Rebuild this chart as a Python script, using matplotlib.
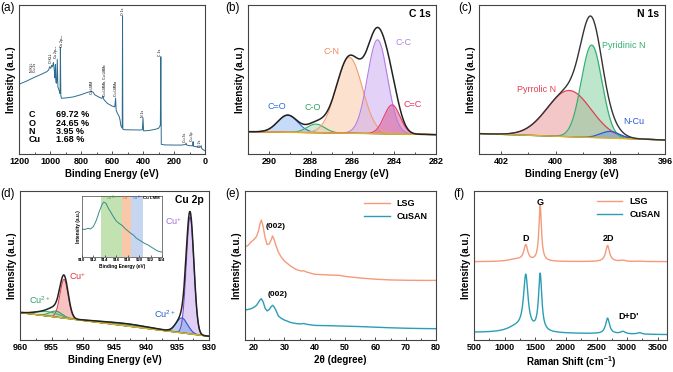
import numpy as np
import matplotlib.pyplot as plt
from matplotlib.ticker import MultipleLocator

plt.rcParams['font.family'] = ['Liberation Sans', 'DejaVu Sans']
plt.rcParams['mathtext.fontset'] = 'custom'
plt.rcParams['mathtext.rm'] = 'Liberation Sans'
plt.rcParams['mathtext.bf'] = 'Liberation Sans:bold'
plt.rcParams['mathtext.default'] = 'regular'

# ---------------- data ----------------
# (a) XPS survey (binding energy eV, intensity in % of axis height)
survey_be = [1200, 1150, 1100, 1060, 1020, 1008, 1003, 995, 990, 984, 978, 972, 968, 965, 962,
             957, 953, 949, 944, 939, 935, 933, 930, 926, 900, 850, 800, 760, 735, 722, 712, 690,
             665, 658, 652, 630, 600, 582, 577, 573, 565, 555, 548, 543, 537, 534, 532, 530, 520,
             480, 420, 404, 400, 396, 360, 320, 300, 292, 288, 285, 282, 260, 200, 150, 126, 122,
             118, 100, 80, 77, 74, 50, 30, 25, 20, 10, 0]
survey_int = [46.8, 49.0, 51.5, 53.3, 55.3, 56.5, 58.5, 57.5, 59.5, 58.5, 61.5, 56.0, 51.0, 60.0, 48.0,
              47.5, 63.5, 45.0, 43.5, 42.0, 40.5, 71.5, 39.0, 37.4, 37.6, 38.3, 39.8, 41.3, 42.0, 41.5,
              39.8, 38.5, 37.3, 38.8, 36.5, 34.0, 32.2, 31.6, 37.5, 29.5, 27.2, 25.5, 22.8, 19.0, 18.3,
              17.5, 92.6, 16.6, 16.3, 16.2, 16.1, 16.3, 24.3, 15.5, 15.8, 16.6, 17.2, 18.5, 19.5, 65.3,
              6.5, 6.1, 6.0, 6.0, 6.4, 7.3, 6.0, 5.6, 5.5, 8.3, 5.2, 4.8, 4.6, 5.6, 3.5, 2.8, 2.2]
survey_tags = ['N KLL', 'Cu 2s', 'O KLL', 'Cu 2p$_{1/2}$', 'Cu 2p$_{3/2}$', 'Cu LMM',
               'Cu LMMb, Cu LMMc', 'Cu LMMa', 'O 1s', 'N 1s', 'C 1s', 'Cu 3s', 'Cu 3p', 'O 2s']
survey_tag_be = [1118, 1094, 994, 962, 920, 726, 650, 575, 532, 400, 288, 131, 84, 30]
survey_tag_y = [55, 55, 61, 64, 71, 40, 39, 39, 93, 25, 66, 8, 9, 5]
atom_el = ['C', 'O', 'N', 'Cu']
atom_pct = ['69.72 %', '24.65 %', '3.95 %', '1.68 %']

# (b) C 1s fit components
c1s_names = ['C=O', 'C-O', 'C-N', 'C-C', 'C=C']
c1s_center = [289.1, 287.75, 286.15, 284.8, 284.1]
c1s_height = [11.5, 5.8, 51.0, 63.0, 19.5]
c1s_sigma = [0.48, 0.42, 0.62, 0.48, 0.38]
c1s_bg = [15.0, 13.0]  # background at 291 and 282 eV

# (c) N 1s fit components
n1s_names = ['Pyrrolic N', 'Pyridinic N', 'N-Cu']
n1s_center = [399.5, 398.68, 398.0]
n1s_height = [31.0, 62.0, 4.5]
n1s_sigma = [0.8, 0.38, 0.35]
n1s_bg = [13.7, 9.4]  # at 402.8 and 396 eV

# (d) Cu 2p fit components
cu_names = ['Cu+ 2p3/2', 'Cu2+ 2p3/2', 'Cu+ 2p1/2', 'Cu2+ 2p1/2', 'sat 1', 'sat 2']
cu_center = [933.0, 934.3, 953.0, 954.3, 955.6, 943.0]
cu_height = [78.5, 10.0, 26.0, 4.0, 3.0, 1.5]
cu_sigma = [0.6, 0.9, 0.65, 1.0, 1.8, 4.0]
cu_bg = [18.4, 2.5]  # at 960 and 930 eV

# (d) inset: Cu LMM
lmm_be = [910, 910.5, 911, 911.5, 912, 912.5, 913, 913.5, 913.8, 914.2, 914.6, 915, 915.5, 916,
          916.5, 917, 917.5, 918, 918.5, 919, 919.5, 920, 920.5, 921, 921.5, 922, 922.5, 923,
          923.5, 924]
lmm_int = [46, 45, 47, 46, 50, 60, 74, 86, 90, 88, 80, 74, 66, 59, 55, 52, 47, 43, 39, 36, 31,
           28, 25, 22, 20, 17, 14, 11, 9, 8]
lmm_bands = [(913.4, 917.0), (917.0, 918.6), (918.6, 920.6)]
lmm_band_labels = ['Cu$^{2+}$', 'Cu$^{+}$', 'Cu$^{0}$']

# (e) XRD
xrd_2theta = [17, 18, 19, 20, 20.8, 21.5, 22.0, 22.4, 23.0, 23.6, 24.3, 25.0, 25.6, 26.1, 26.5,
              27.2, 28, 29, 30, 32, 34, 35.5, 36.3, 37.5, 40, 45, 48, 50, 55, 60, 65, 70, 75, 80]
xrd_lsg = [62.4, 63.5, 65.8, 67.5, 69.5, 73.5, 78.5, 80.5, 76.0, 69.0, 64.0, 64.5, 67.0, 69.8, 68.0,
           63.5, 59.0, 55.5, 53.0, 49.7, 47.2, 46.3, 46.5, 45.5, 44.1, 43.6, 43.4, 42.7, 41.6, 40.8,
           40.3, 40.1, 40.0, 40.0]
xrd_cusan = [20.1, 20.5, 21.0, 22.0, 23.3, 25.5, 27.0, 27.7, 25.5, 21.5, 19.5, 20.5, 22.3, 23.3, 22.5,
             20.0, 16.1, 14.5, 13.4, 11.8, 11.0, 10.8, 11.1, 10.5, 9.8, 9.6, 9.4, 9.3, 9.0, 8.6,
             8.2, 7.9, 7.7, 7.6]

# (f) Raman: band positions and heights/half-widths per sample
raman_center = [1180, 1345, 1580, 2680, 2930, 3200]
raman_lsg_h = [1.5, 10.5, 37.5, 10.8, 0.8, 0.3]
raman_lsg_w = [150, 38, 25, 38, 50, 50]
raman_cusan_h = [3.5, 37.0, 38.5, 10.5, 1.6, 1.0]
raman_cusan_w = [180, 45, 32, 38, 45, 40]
raman_lsg_bg = [52.5, 52.6]
raman_cusan_bg = [5.0, 3.6]

# ---------------- helpers ----------------
W, H = 673, 372


def rect(l, r, t, b):
    return [l / W, (H - b) / H, (r - l) / W, (b - t) / H]


def gauss(x, c, h, s):
    return h * np.exp(-0.5 * ((x - c) / s) ** 2)


def lorentz(x, c, h, w):
    return h / (1 + ((x - c) / w) ** 2)


def style(ax, xlim, major, minor, xlabel, fs=7):
    ax.set_xlim(*xlim)
    ax.set_ylim(0, 100)
    ax.xaxis.set_major_locator(MultipleLocator(major))
    ax.xaxis.set_minor_locator(MultipleLocator(minor))
    ax.tick_params(axis='x', which='both', direction='in', labelsize=6.5, pad=2,
                   color='#333333', width=0.6)
    ax.tick_params(axis='x', which='major', length=2.5)
    ax.tick_params(axis='x', which='minor', length=1.5)
    ax.tick_params(axis='y', left=False, labelleft=False)
    for lab in ax.get_xticklabels():
        lab.set_fontweight('bold')
    for sp in ax.spines.values():
        sp.set_color('#444444')
        sp.set_linewidth(0.8)
    ax.set_xlabel(xlabel, fontsize=fs, fontweight='bold', labelpad=2)
    ax.set_ylabel('Intensity (a.u.)', fontsize=fs, fontweight='bold', labelpad=2)


fig = plt.figure(figsize=(6.73, 3.72), dpi=100)

# panel labels
for lbl, x, y in [('(a)', 0, 8), ('(b)', 225, 8), ('(c)', 458, 8),
                  ('(d)', 0, 194), ('(e)', 225, 194), ('(f)', 453, 194)]:
    fig.text(x / W, 1 - y / H, lbl, fontsize=8.5, va='center', ha='left')

# ---------------- (a) survey ----------------
ax = fig.add_axes(rect(19, 205, 5, 154))
ax.plot(survey_be, survey_int, color='#2d6b8f', lw=0.7)
for t, xb, yb in zip(survey_tags, survey_tag_be, survey_tag_y):
    ax.text(xb, yb, t, rotation=90, fontsize=2.5, ha='center', va='bottom')
for i, (el, pc) in enumerate(zip(atom_el, atom_pct)):
    ax.text(1140, 26.5 - i * 5.7, el, fontsize=6.5, fontweight='bold', va='center')
    ax.text(960, 26.5 - i * 5.7, pc, fontsize=6.5, fontweight='bold', va='center')
style(ax, (1200, 0), 200, 100, 'Binding Energy (eV)')

# ---------------- (b) C 1s ----------------
ax = fig.add_axes(rect(248, 436, 5, 154))
x = np.linspace(282, 291, 800)
bg = c1s_bg[1] + (c1s_bg[0] - c1s_bg[1]) * (x - 282) / 9
c1s_line = ['#2f6fd6', '#3aa860', '#f0a070', '#b07ee8', '#e0406a']
c1s_fill = ['#8fb8f0', '#9ed8b0', '#fac4a0', '#c8a4f0', '#d8508a']
c1s_text = ['#2a6ae0', '#30a060', '#f08860', '#b080e0', '#e8305a']
c1s_lab_xy = [(289.6, 32), (287.9, 31.5), (287.0, 68.5), (283.55, 74.5), (283.1, 33.5)]
env = bg.copy()
for c, h, s, lc, fc, tc, name, (tx, ty) in zip(c1s_center, c1s_height, c1s_sigma, c1s_line,
                                               c1s_fill, c1s_text, c1s_names, c1s_lab_xy):
    g = gauss(x, c, h, s)
    env += g
    ax.fill_between(x, bg, bg + g, color=fc, alpha=0.5, lw=0)
    ax.plot(x, bg + g, color=lc, lw=0.8)
    ax.text(tx, ty, name, color=tc, fontsize=6.5, ha='center', va='center')
ax.plot(x, bg, color='#e0b020', lw=1.0)
ax.plot(x, env, color='#222222', lw=1.1)
ax.text(0.97, 0.94, 'C 1s', transform=ax.transAxes, fontsize=7.5, fontweight='bold',
        ha='right', va='center')
style(ax, (291, 282), 2, 1, 'Binding Energy (eV)')

# ---------------- (c) N 1s ----------------
ax = fig.add_axes(rect(479, 665, 5, 154))
x = np.linspace(396, 402.8, 800)
bg = n1s_bg[1] + (n1s_bg[0] - n1s_bg[1]) * (x - 396) / 6.8
n1s_line = ['#e04050', '#35b070', '#2a5ad0']
n1s_fill = ['#e89090', '#7ccf9c', '#6f96e6']
n1s_lab_xy = [(400.7, 43.5), (397.5, 72.5), (397.15, 21.5)]
env = bg.copy()
for c, h, s, lc, fc, name, (tx, ty) in zip(n1s_center, n1s_height, n1s_sigma, n1s_line,
                                           n1s_fill, n1s_names, n1s_lab_xy):
    g = gauss(x, c, h, s)
    env += g
    ax.fill_between(x, bg, bg + g, color=fc, alpha=0.5, lw=0)
    ax.plot(x, bg + g, color=lc, lw=0.9)
    ax.text(tx, ty, name, color=lc, fontsize=6.5, ha='center', va='center')
ax.plot(x, bg, color='#e0b020', lw=1.0)
ax.plot(x, env, color='#333333', lw=1.0)
ax.text(0.97, 0.94, 'N 1s', transform=ax.transAxes, fontsize=7.5, fontweight='bold',
        ha='right', va='center')
style(ax, (402.8, 396), 2, 1, 'Binding Energy (eV)')

# ---------------- (d) Cu 2p ----------------
ax = fig.add_axes(rect(20, 209, 191, 340))
x = np.linspace(930, 960, 1200)
bg = cu_bg[1] + (cu_bg[0] - cu_bg[1]) * (x - 930) / 30
cu_line = ['#7a4cc0', '#2a5ad0', '#e04050', '#3c9a5a', '#4caf70', '#1f7a55']
cu_fill = ['#c9a8ee', '#7fa4ee', '#f09090', '#8fd0a0', '#b6e2c0', '#2e8b57']
env = bg.copy()
for c, h, s, lc, fc in zip(cu_center, cu_height, cu_sigma, cu_line, cu_fill):
    g = gauss(x, c, h, s)
    env += g
    ax.fill_between(x, bg, bg + g, color=fc, alpha=0.55, lw=0)
    ax.plot(x, bg + g, color=lc, lw=0.8)
ax.plot(x, bg, color='#e0b020', lw=1.0)
ax.plot(x, env, color='#222222', lw=1.1)
ax.text(950.9, 43, 'Cu$^{+}$', color='#e03040', fontsize=6.5, ha='center', va='center')
ax.text(956.8, 26.5, 'Cu$^{2+}$', color='#30a060', fontsize=6.5, ha='center', va='center')
ax.text(937.0, 17.5, 'Cu$^{2+}$', color='#2a5ad0', fontsize=6.5, ha='center', va='center')
ax.text(935.6, 80, 'Cu$^{+}$', color='#a070d8', fontsize=6.5, ha='center', va='center')
ax.text(0.97, 0.94, 'Cu 2p', transform=ax.transAxes, fontsize=7.5, fontweight='bold',
        ha='right', va='center')
style(ax, (960, 930), 5, 2.5, 'Binding Energy (eV)')

# inset
ins = fig.add_axes(rect(82, 162, 196, 257))
band_cols = ['#c2e2b2', '#f8c8a8', '#c6d6f0']
band_txt = ['#40a040', '#f07040', '#3070d0']
for (b0, b1), bc, tc, bl in zip(lmm_bands, band_cols, band_txt, lmm_band_labels):
    ins.axvspan(b0, b1, color=bc, lw=0)
    ins.text((b0 + b1) / 2, 96, bl, color=tc, fontsize=3, ha='center', va='center')
ins.text(922.2, 96, 'Cu LMM', fontsize=3.2, fontweight='bold', ha='center', va='center')
ins.plot(lmm_be, lmm_int, color='#3a8a8a', lw=0.7)
ins.set_xlim(910, 924)
ins.set_ylim(0, 100)
ins.xaxis.set_major_locator(MultipleLocator(2))
ins.tick_params(axis='x', direction='in', labelsize=3.2, pad=1, length=1.5, width=0.4)
ins.tick_params(axis='y', left=False, labelleft=False)
for lab in ins.get_xticklabels():
    lab.set_fontweight('bold')
for sp in ins.spines.values():
    sp.set_linewidth(0.5)
    sp.set_color('#444444')
ins.set_xlabel('Binding Energy (eV)', fontsize=3.4, fontweight='bold', labelpad=1.5)
ins.set_ylabel('Intensity (a.u.)', fontsize=3.4, fontweight='bold', labelpad=1)

# ---------------- (e) XRD ----------------
c_lsg, c_cusan = '#f59a7c', '#2b9db5'
ax = fig.add_axes(rect(245, 436, 191, 340))
ax.plot(xrd_2theta, xrd_lsg, color=c_lsg, lw=1.0, label='LSG')
ax.plot(xrd_2theta, xrd_cusan, color=c_cusan, lw=1.0, label='CuSAN')
ax.text(27.1, 76.5, '(002)', fontsize=6, fontweight='bold', ha='center', va='center')
ax.text(27.8, 30.5, '(002)', fontsize=6, fontweight='bold', ha='center', va='center')
ax.legend(loc='upper right', frameon=False, prop={'weight': 'bold', 'size': 6.5},
          handlelength=2.8, borderaxespad=0.5, labelspacing=0.4)
style(ax, (17, 80), 10, 5, '2θ (degree)')

# ---------------- (f) Raman ----------------
ax = fig.add_axes(rect(474, 667, 191, 340))
x = np.linspace(500, 3650, 1500)
for hs, ws, bgv, col, name in [(raman_lsg_h, raman_lsg_w, raman_lsg_bg, c_lsg, 'LSG'),
                               (raman_cusan_h, raman_cusan_w, raman_cusan_bg, c_cusan, 'CuSAN')]:
    y = bgv[0] + (bgv[1] - bgv[0]) * (x - 500) / 3150
    for c, h, w in zip(raman_center, hs, ws):
        y = y + lorentz(x, c, h, w)
    ax.plot(x, y, color=col, lw=1.0, label=name)
ax.text(1340, 68, 'D', fontsize=6.5, fontweight='bold', ha='center', va='center')
ax.text(1580, 92, 'G', fontsize=6.5, fontweight='bold', ha='center', va='center')
ax.text(2690, 68, '2D', fontsize=6.5, fontweight='bold', ha='center', va='center')
ax.text(3020, 15.5, "D+D'", fontsize=6.5, fontweight='bold', ha='center', va='center')
ax.legend(loc='upper right', frameon=False, prop={'weight': 'bold', 'size': 6.5},
          handlelength=2.8, borderaxespad=0.3, labelspacing=0.4)
style(ax, (500, 3650), 500, 250, 'Raman Shift (cm$^{-1}$)')

fig.savefig('out.png', dpi=100)
